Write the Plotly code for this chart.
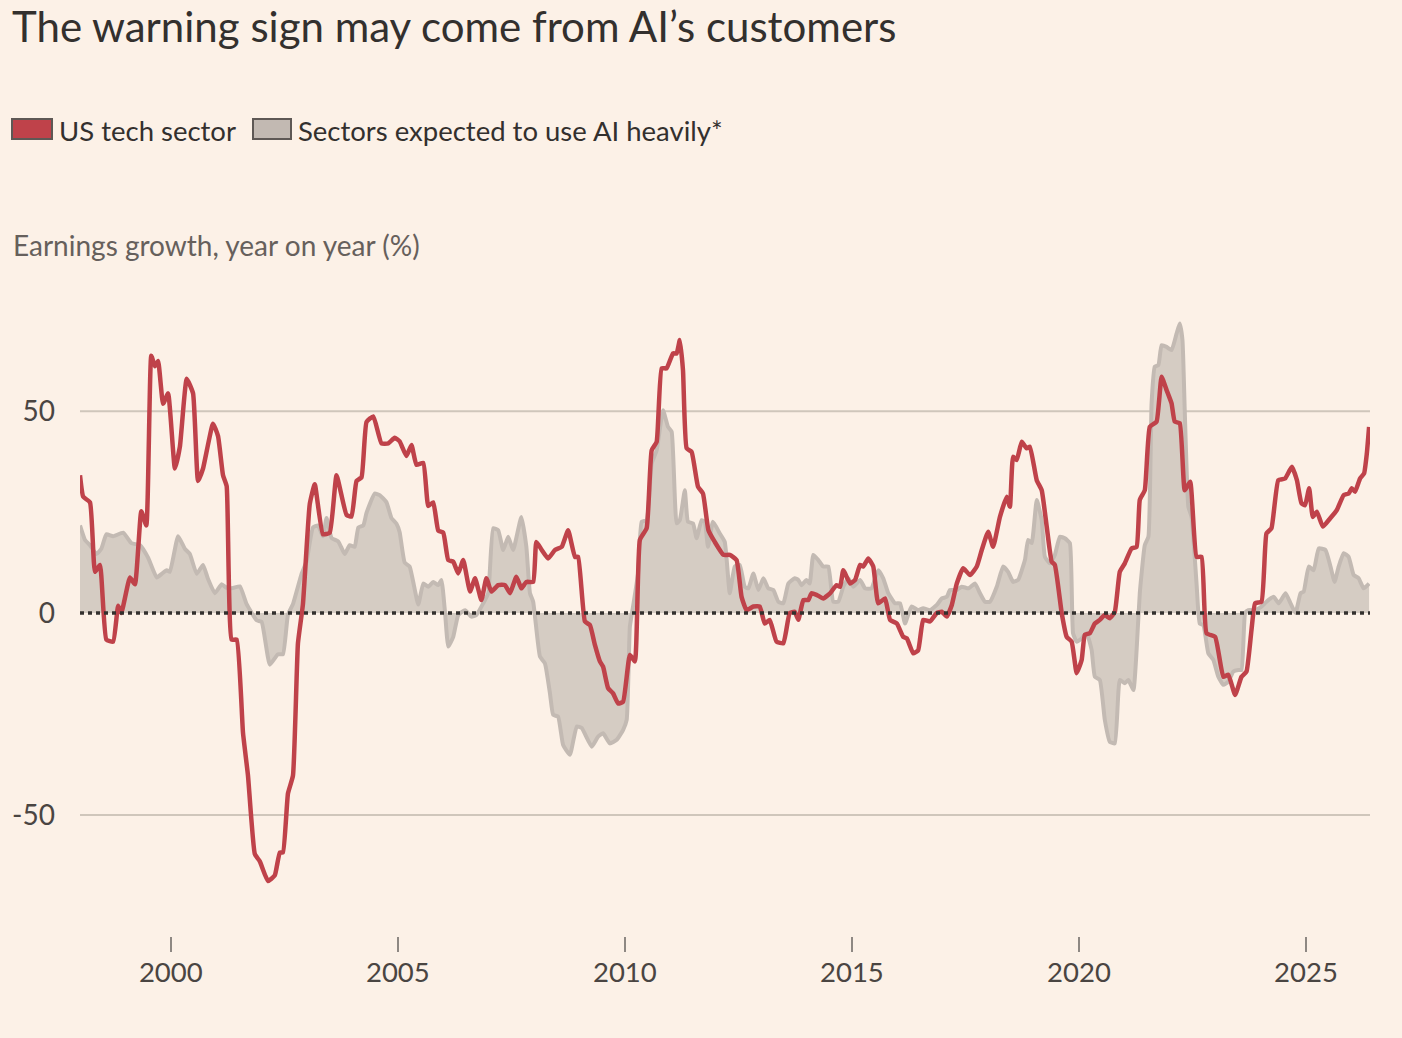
import plotly.graph_objects as go

# ---------------- data ----------------
RED_YEARS = [
    1998.00, 1998.07, 1998.22, 1998.33, 1998.44, 1998.58, 1998.73, 1998.84, 1998.91, 1999.10,
    1999.21, 1999.35, 1999.46, 1999.57, 1999.65, 1999.72, 1999.83, 1999.94, 2000.09, 2000.20,
    2000.35, 2000.49, 2000.60, 2000.71, 2000.93, 2001.04, 2001.15, 2001.23, 2001.34, 2001.45,
    2001.59, 2001.70, 2001.85, 2001.96, 2002.14, 2002.29, 2002.40, 2002.47, 2002.58, 2002.69,
    2002.80, 2002.91, 2003.06, 2003.17, 2003.35, 2003.50, 2003.65, 2003.87, 2003.98, 2004.09,
    2004.20, 2004.31, 2004.46, 2004.64, 2004.79, 2004.93, 2005.04, 2005.19, 2005.30, 2005.41,
    2005.56, 2005.67, 2005.78, 2005.89, 2006.00, 2006.11, 2006.22, 2006.33, 2006.44, 2006.59,
    2006.70, 2006.84, 2006.95, 2007.06, 2007.21, 2007.36, 2007.47, 2007.61, 2007.72, 2007.83,
    2007.98, 2008.05, 2008.17, 2008.31, 2008.46, 2008.61, 2008.75, 2008.90, 2008.97, 2009.12,
    2009.23, 2009.34, 2009.45, 2009.52, 2009.63, 2009.74, 2009.85, 2009.96, 2010.11, 2010.22,
    2010.33, 2010.48, 2010.59, 2010.70, 2010.81, 2010.92, 2011.06, 2011.14, 2011.21, 2011.28,
    2011.36, 2011.47, 2011.61, 2011.72, 2011.84, 2011.98, 2012.17, 2012.31, 2012.46, 2012.57,
    2012.68, 2012.83, 2012.97, 2013.08, 2013.19, 2013.34, 2013.49, 2013.63, 2013.74, 2013.82,
    2013.93, 2014.04, 2014.11, 2014.22, 2014.37, 2014.52, 2014.66, 2014.74, 2014.81, 2014.96,
    2015.07, 2015.18, 2015.25, 2015.36, 2015.47, 2015.58, 2015.73, 2015.84, 2015.99, 2016.13,
    2016.21, 2016.35, 2016.46, 2016.57, 2016.72, 2016.87, 2016.98, 2017.09, 2017.20, 2017.31,
    2017.45, 2017.60, 2017.75, 2017.86, 2018.00, 2018.11, 2018.26, 2018.41, 2018.48, 2018.55,
    2018.63, 2018.74, 2018.85, 2018.92, 2019.07, 2019.18, 2019.29, 2019.40, 2019.47, 2019.62,
    2019.73, 2019.84, 2019.95, 2020.06, 2020.13, 2020.24, 2020.35, 2020.46, 2020.57, 2020.68,
    2020.79, 2020.90, 2021.01, 2021.16, 2021.27, 2021.34, 2021.45, 2021.56, 2021.71, 2021.82,
    2021.93, 2022.04, 2022.11, 2022.22, 2022.33, 2022.45, 2022.59, 2022.70, 2022.81, 2023.00,
    2023.18, 2023.29, 2023.44, 2023.58, 2023.69, 2023.80, 2023.88, 2024.02, 2024.13, 2024.24,
    2024.39, 2024.54, 2024.69, 2024.80, 2024.90, 2024.98, 2025.07, 2025.15, 2025.24, 2025.37,
    2025.53, 2025.68, 2025.83, 2025.94, 2026.01, 2026.08, 2026.19, 2026.28, 2026.34, 2026.39,
]
RED_VALUES = [
    34.1, 28.8, 27.4, 10.2, 11.9, -6.6, -7.1, 1.8, 0.0, 8.8,
    7.1, 25.2, 21.7, 63.7, 61.1, 62.4, 51.8, 54.4, 35.8, 41.2,
    58.0, 54.4, 32.7, 35.8, 46.9, 43.8, 34.1, 31.4, -6.6, -6.6,
    -29.7, -40.3, -59.7, -61.5, -66.4, -65.0, -59.3, -59.3, -44.7, -40.3,
    -7.5, 2.2, 27.0, 31.9, 19.5, 19.9, 34.1, 24.3, 23.9, 32.7,
    33.6, 47.3, 48.7, 42.0, 42.0, 43.4, 42.5, 38.9, 41.6, 36.7,
    37.2, 26.5, 27.4, 20.4, 19.9, 13.1, 12.7, 9.8, 13.1, 5.3,
    8.6, 3.2, 8.6, 5.3, 6.9, 6.9, 4.9, 9.0, 6.1, 7.7,
    7.7, 17.6, 15.6, 13.5, 15.6, 16.4, 20.5, 13.9, 13.9, -2.1,
    -3.0, -7.9, -12.0, -13.3, -18.6, -19.9, -22.4, -22.0, -10.4, -12.0,
    18.1, 21.0, 40.3, 42.4, 60.6, 60.6, 64.3, 64.3, 67.6, 60.1,
    40.8, 39.9, 31.3, 29.6, 20.5, 17.6, 14.4, 14.4, 13.1, 4.0,
    0.7, 1.6, 1.6, -2.6, -1.7, -7.1, -7.5, 0.0, 0.3, -1.7,
    3.2, 3.2, 4.9, 4.5, 3.6, 4.9, 6.9, 6.5, 10.6, 7.3,
    8.2, 11.9, 11.5, 13.5, 11.5, 2.4, 3.6, -1.7, -2.6, -5.9,
    -6.3, -10.0, -9.2, -1.7, -2.1, 0.0, 0.3, -0.9, 2.0, 7.3,
    11.1, 9.4, 11.5, 15.6, 20.1, 16.4, 23.8, 28.8, 26.3, 38.7,
    37.9, 42.4, 40.8, 41.2, 32.9, 30.4, 21.4, 12.7, 11.9, 0.0,
    -5.9, -7.1, -14.9, -11.6, -5.4, -5.0, -2.6, -1.7, -0.5, -1.3,
    0.3, 10.2, 12.3, 16.0, 16.4, 28.0, 30.4, 46.1, 47.4, 58.5,
    55.2, 51.9, 47.4, 47.0, 30.4, 32.5, 13.9, 13.9, -5.0, -5.9,
    -15.8, -15.3, -20.3, -15.8, -14.5, -4.2, 2.4, 2.8, 19.7, 21.0,
    32.9, 33.3, 36.2, 32.9, 27.2, 26.7, 30.9, 23.8, 25.1, 21.4,
    23.4, 25.5, 29.2, 29.6, 30.9, 30.0, 33.3, 34.6, 39.5, 46.1,
]

GREY_YEARS = [
    1998.00, 1998.11, 1998.22, 1998.36, 1998.47, 1998.58, 1998.73, 1998.95, 1999.13, 1999.32,
    1999.50, 1999.69, 1999.80, 1999.91, 1999.98, 2000.16, 2000.31, 2000.42, 2000.57, 2000.71,
    2000.82, 2000.97, 2001.12, 2001.23, 2001.37, 2001.52, 2001.67, 2001.89, 2002.00, 2002.18,
    2002.36, 2002.47, 2002.58, 2002.69, 2002.88, 2002.99, 2003.13, 2003.24, 2003.35, 2003.43,
    2003.54, 2003.69, 2003.83, 2003.94, 2004.05, 2004.13, 2004.24, 2004.31, 2004.49, 2004.60,
    2004.75, 2004.86, 2004.97, 2005.04, 2005.15, 2005.26, 2005.45, 2005.56, 2005.67, 2005.78,
    2005.89, 2005.96, 2006.04, 2006.11, 2006.22, 2006.33, 2006.48, 2006.62, 2006.73, 2006.88,
    2006.99, 2007.10, 2007.21, 2007.32, 2007.43, 2007.54, 2007.72, 2007.83, 2007.91, 2007.98,
    2008.13, 2008.24, 2008.35, 2008.42, 2008.53, 2008.64, 2008.79, 2008.94, 2009.05, 2009.27,
    2009.41, 2009.52, 2009.67, 2009.82, 2009.96, 2010.04, 2010.11, 2010.18, 2010.29, 2010.37,
    2010.48, 2010.59, 2010.70, 2010.84, 2010.95, 2011.03, 2011.14, 2011.21, 2011.32, 2011.39,
    2011.50, 2011.58, 2011.69, 2011.76, 2011.83, 2011.94, 2012.09, 2012.20, 2012.31, 2012.42,
    2012.53, 2012.64, 2012.72, 2012.83, 2012.94, 2013.05, 2013.16, 2013.27, 2013.38, 2013.49,
    2013.60, 2013.74, 2013.82, 2013.89, 2014.00, 2014.07, 2014.15, 2014.26, 2014.37, 2014.48,
    2014.59, 2014.70, 2014.81, 2014.92, 2015.03, 2015.18, 2015.29, 2015.43, 2015.58, 2015.69,
    2015.80, 2015.95, 2016.06, 2016.17, 2016.31, 2016.46, 2016.57, 2016.72, 2016.87, 2016.98,
    2017.09, 2017.16, 2017.31, 2017.42, 2017.57, 2017.71, 2017.82, 2017.93, 2018.04, 2018.19,
    2018.33, 2018.44, 2018.55, 2018.66, 2018.81, 2018.88, 2018.96, 2019.07, 2019.18, 2019.25,
    2019.36, 2019.47, 2019.58, 2019.69, 2019.80, 2019.87, 2019.95, 2020.06, 2020.17, 2020.28,
    2020.35, 2020.46, 2020.57, 2020.68, 2020.79, 2020.90, 2021.01, 2021.09, 2021.20, 2021.27,
    2021.34, 2021.45, 2021.53, 2021.60, 2021.67, 2021.75, 2021.82, 2021.93, 2022.04, 2022.15,
    2022.22, 2022.28, 2022.33, 2022.41, 2022.48, 2022.59, 2022.66, 2022.74, 2022.85, 2022.96,
    2023.07, 2023.18, 2023.29, 2023.40, 2023.51, 2023.58, 2023.66, 2023.73, 2023.88, 2024.02,
    2024.17, 2024.29, 2024.40, 2024.55, 2024.66, 2024.77, 2024.88, 2024.95, 2025.06, 2025.17,
    2025.28, 2025.43, 2025.54, 2025.63, 2025.72, 2025.83, 2025.94, 2026.05, 2026.16, 2026.27,
    2026.39,
]
GREY_VALUES = [
    21.7, 18.1, 16.8, 14.6, 15.9, 19.5, 19.0, 19.9, 17.3, 16.8,
    13.7, 8.8, 9.7, 10.6, 10.2, 19.0, 15.9, 14.6, 9.7, 11.9,
    8.4, 4.9, 7.1, 6.2, 6.2, 6.6, 2.2, -1.8, -2.2, -12.8,
    -10.2, -10.2, -0.4, 2.2, 9.7, 12.8, 21.2, 21.7, 19.0, 23.5,
    18.6, 17.7, 14.6, 16.8, 16.4, 21.2, 21.7, 24.8, 29.6, 29.2,
    27.4, 23.5, 22.1, 20.0, 12.5, 11.5, 2.1, 7.3, 6.5, 7.7,
    6.9, 8.2, 0.0, -8.3, -5.9, -0.5, 0.7, -0.9, -0.5, 2.4,
    4.9, 21.0, 20.5, 15.6, 18.9, 15.6, 23.8, 16.4, 4.9, 2.8,
    -10.8, -12.5, -19.9, -25.2, -25.7, -32.7, -35.1, -28.1, -28.5, -33.1,
    -30.6, -29.8, -32.3, -31.4, -29.0, -26.5, -3.4, 1.6, 9.8, 22.6,
    23.0, 37.0, 40.3, 50.2, 46.1, 44.9, 22.2, 23.0, 30.4, 22.6,
    22.2, 18.5, 23.0, 22.6, 16.4, 22.6, 19.7, 17.6, 4.9, 11.5,
    11.9, 6.5, 6.1, 9.8, 5.7, 8.6, 6.1, 5.7, 2.8, 2.4,
    7.3, 8.6, 8.2, 6.9, 8.2, 7.3, 14.4, 13.1, 11.5, 11.5,
    2.8, 2.8, 6.5, 8.6, 6.5, 8.2, 6.1, 6.1, 10.6, 8.6,
    4.9, 2.4, 2.4, -2.6, 1.6, 0.7, 1.2, 0.7, 2.0, 3.6,
    4.0, 5.7, 5.7, 6.5, 6.1, 7.3, 4.9, 2.8, 2.8, 6.5,
    11.5, 10.2, 7.7, 8.2, 13.1, 18.1, 17.3, 28.0, 23.0, 13.9,
    12.3, 14.4, 18.9, 18.5, 17.3, -5.0, -7.1, -6.3, -5.0, -9.2,
    -15.8, -16.6, -26.5, -31.9, -32.3, -16.6, -17.4, -16.6, -19.1, -9.2,
    4.9, 16.8, 18.9, 51.9, 61.0, 61.4, 66.3, 65.9, 65.1, 69.2,
    71.7, 67.6, 50.2, 26.3, 23.8, 7.3, -2.6, -3.0, -10.0, -11.6,
    -15.8, -17.8, -17.0, -14.5, -14.1, -14.1, 0.0, 0.7, 0.7, 1.6,
    3.2, 4.0, 2.4, 4.9, 2.4, 0.0, 4.9, 5.3, 11.5, 10.6,
    16.0, 15.6, 11.5, 7.7, 11.5, 14.8, 13.9, 9.4, 8.6, 6.1,
    7.3,
]

assert len(RED_YEARS) == len(RED_VALUES), (len(RED_YEARS), len(RED_VALUES))
assert len(GREY_YEARS) == len(GREY_VALUES), (len(GREY_YEARS), len(GREY_VALUES))

SERIES_NAMES = ["US tech sector", "Sectors expected to use AI heavily*"]
X_TICKS = [2000, 2005, 2010, 2015, 2020, 2025]
Y_TICKS = [-50, 0, 50]
GRID_VALUES = [-50, 50]
TITLE = "The warning sign may come from AI\u2019s customers"
Y_LABEL = "Earnings growth, year on year (%)"

# ---------------- style ----------------
BG = "#FCF1E7"
RED = "#BF424A"
GREY_LINE = "#C3BAB3"
GREY_FILL = "#D5CCC3"
TEXT = "#33302E"
MUTED = "#66605C"
TICKTEXT = "#4A4542"
FONT = "Lato"

fig = go.Figure()
fig.add_trace(go.Scatter(
    x=GREY_YEARS, y=GREY_VALUES, name=SERIES_NAMES[1], mode="lines",
    line=dict(color=GREY_LINE, width=4, shape="spline", smoothing=0.4),
    fill="tozeroy", fillcolor=GREY_FILL, hoverinfo="skip", showlegend=False,
))
fig.add_trace(go.Scatter(
    x=RED_YEARS, y=RED_VALUES, name=SERIES_NAMES[0], mode="lines",
    line=dict(color=RED, width=4.5, shape="spline", smoothing=0.4),
    hoverinfo="skip", showlegend=False,
))

shapes = []
for v in GRID_VALUES:
    shapes.append(dict(type="line", xref="paper", x0=0, x1=1, yref="y", y0=v, y1=v,
                       line=dict(color="#CFC6BB", width=2), layer="below"))
shapes.append(dict(type="line", xref="paper", x0=0, x1=1, yref="y", y0=0, y1=0,
                   line=dict(color=TEXT, width=3.5, dash="4px,4px"), layer="above"))

# plot area in pixels: x 80..1370, y 290..936
def px_x(p):
    return (p - 80) / 1290.0

def px_y(p):
    return (936 - p) / 646.0

# legend swatches
shapes.append(dict(type="rect", xref="paper", yref="paper",
                   x0=px_x(12), x1=px_x(52), y0=px_y(139), y1=px_y(119),
                   fillcolor=RED, line=dict(color="#5E5855", width=2), layer="above"))
shapes.append(dict(type="rect", xref="paper", yref="paper",
                   x0=px_x(253), x1=px_x(291), y0=px_y(139), y1=px_y(119),
                   fillcolor="#C2B9B2", line=dict(color="#5E5855", width=2), layer="above"))

annotations = [
    dict(text=SERIES_NAMES[0], xref="paper", yref="paper", x=px_x(57), y=px_y(130),
         xanchor="left", yanchor="middle", showarrow=False,
         font=dict(family=FONT, size=27.5, color=TEXT)),
    dict(text=SERIES_NAMES[1], xref="paper", yref="paper", x=px_x(296), y=px_y(130),
         xanchor="left", yanchor="middle", showarrow=False,
         font=dict(family=FONT, size=27.5, color=TEXT)),
    dict(text=Y_LABEL, xref="paper", yref="paper", x=px_x(11), y=px_y(245),
         xanchor="left", yanchor="middle", showarrow=False,
         font=dict(family=FONT, size=28, color=MUTED)),
]

fig.update_layout(
    width=1402, height=1038,
    paper_bgcolor=BG, plot_bgcolor=BG,
    margin=dict(l=80, r=32, t=290, b=102, pad=0),
    title=dict(text=TITLE, x=12 / 1402, xref="container", xanchor="left",
               y=1 - 27 / 1038, yref="container", yanchor="middle",
               font=dict(family=FONT, size=42, color=TEXT)),
    font=dict(family=FONT, color=TEXT),
    shapes=shapes, annotations=annotations,
    showlegend=False,
    xaxis=dict(range=[1998.0, 2026.41], tickvals=X_TICKS, ticktext=[str(t) for t in X_TICKS],
               showgrid=False, zeroline=False, showline=False,
               ticks="outside", ticklen=15, tickwidth=2, tickcolor="#8E8883",
               tickfont=dict(family=FONT, size=27.5, color=TICKTEXT),
               ticklabelstandoff=-3, fixedrange=True),
    yaxis=dict(range=[-80, 80], tickvals=Y_TICKS, ticktext=[str(t) for t in Y_TICKS],
               showgrid=False, zeroline=False, showline=False, ticks="",
               tickfont=dict(family=FONT, size=28, color=TICKTEXT),
               ticklabelstandoff=24, fixedrange=True),
)

fig.write_html(
    "out.html",
    config={"displayModeBar": False},
    post_script="document.body.style.margin='0';document.body.style.background='" + BG + "';",
)
